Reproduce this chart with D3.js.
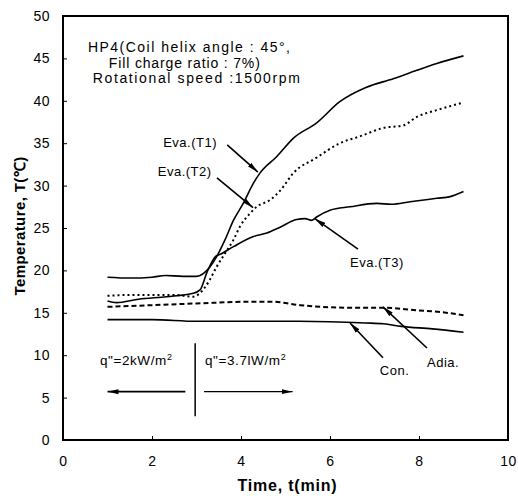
<!DOCTYPE html>
<html>
<head>
<meta charset="utf-8">
<script src="https://cdn.jsdelivr.net/npm/d3@7"></script>
<style>
  body { margin: 0; background: #fff; }
  text { font-family: "Liberation Sans", Arial, sans-serif; fill: #000; }
</style>
</head>
<body>
<div id="chart"></div>
<script>
// data: [time (min), temperature (C)]
var evaT1 = [[1,19.2],[1.5,19.1],[2,19.2],[2.3,19.4],[2.7,19.3],[3.0,19.3],[3.3,20.4],[3.45,21.6],[3.64,23.6],[3.83,25.9],[4.05,27.9],[4.28,30.3],[4.43,31.5],[4.8,33.4],[5.18,35.6],[5.7,37.4],[6.22,39.9],[6.82,41.6],[7.42,42.6],[7.95,43.6],[8.4,44.4],[9,45.3]];
var evaT2 = [[1,17.0],[1.5,17.1],[2,17.1],[2.5,17.1],[2.93,16.9],[3.05,17.2],[3.3,18.9],[3.45,20.4],[3.64,22.0],[3.83,23.6],[3.98,25.2],[4.2,26.7],[4.35,27.5],[4.65,28.3],[4.88,29.4],[5.18,31.5],[5.7,33.3],[6.22,35.0],[6.67,35.8],[7.2,36.8],[7.65,37.1],[7.95,38.1],[8.4,38.9],[9,39.8]];
var evaT3 = [[1,16.4],[1.2,16.2],[1.7,16.6],[2.33,16.9],[2.93,17.3],[3.08,17.7],[3.23,19.7],[3.42,21.6],[3.57,22.0],[3.83,22.8],[4.28,24.0],[4.58,24.4],[4.88,25.1],[5.25,26.0],[5.44,26.1],[5.59,25.9],[5.7,26.3],[6.0,27.1],[6.45,27.5],[7.05,27.9],[7.38,27.8],[7.8,28.1],[8.4,28.5],[8.7,28.7],[9,29.3]];
var adia = [[1,15.7],[2,15.9],[3,16.1],[4.2,16.3],[4.7,16.3],[5.33,15.9],[6.45,15.6],[7.2,15.6],[7.95,15.3],[8.47,15.1],[9,14.7]];
var con = [[1,14.2],[2,14.2],[3,14.0],[5.3,14.0],[6.8,13.8],[7.2,13.7],[7.6,13.4],[8.3,13.1],[9,12.7]];

var xTicks = [0, 2, 4, 6, 8, 10];
var yTicks = [0, 5, 10, 15, 20, 25, 30, 35, 40, 45, 50];
var infoLines = ["HP4(Coil helix angle : 45\u00b0,", "Fill charge ratio : 7%)", "Rotational speed :1500rpm"];

var margin = {top: 16, right: 10, bottom: 56, left: 63},
    width = 518 - margin.left - margin.right,
    height = 496 - margin.top - margin.bottom;

var svg = d3.select("#chart")
  .append("svg")
    .attr("width", 518)
    .attr("height", 496)
  .append("g")
    .attr("transform", "translate(" + margin.left + "," + margin.top + ")");

var x = d3.scaleLinear().domain([0, 10]).range([0, width]);
var y = d3.scaleLinear().domain([0, 50]).range([height, 0]);

// arrowhead
svg.append("defs").append("marker")
    .attr("id", "head")
    .attr("viewBox", "0 0 11 6")
    .attr("refX", 11).attr("refY", 3)
    .attr("markerWidth", 11).attr("markerHeight", 6)
    .attr("markerUnits", "userSpaceOnUse")
    .attr("orient", "auto")
  .append("path")
    .attr("d", "M0,0.5 L11,3 L0,5.5 Z")
    .attr("fill", "#000");

// axes with inward ticks
svg.append("g")
    .attr("transform", "translate(0," + height + ")")
    .call(d3.axisBottom(x).tickValues(xTicks).tickSize(-4).tickPadding(16))
    .call(g => g.select(".domain").remove())
    .call(g => g.selectAll("text").attr("font-size", "14px").attr("letter-spacing", "0.5px"));

svg.append("g")
    .call(d3.axisLeft(y).tickValues(yTicks).tickSize(-4).tickPadding(13))
    .call(g => g.select(".domain").remove())
    .call(g => g.selectAll("text").attr("font-size", "14px").attr("letter-spacing", "0.5px"));

svg.append("rect")
    .attr("width", width).attr("height", height)
    .attr("fill", "none").attr("stroke", "#000").attr("stroke-width", 2);

// axis titles
svg.append("text")
    .attr("x", width / 2 + 2).attr("y", height + 51)
    .attr("text-anchor", "middle")
    .attr("font-size", "16px").attr("font-weight", "bold")
    .attr("letter-spacing", "0.8px")
    .text("Time, t(min)");

svg.append("text")
    .attr("transform", "translate(-38," + (height / 2 - 2) + ") rotate(-90)")
    .attr("text-anchor", "middle")
    .attr("font-size", "15px").attr("font-weight", "bold")
    .attr("letter-spacing", "0.4px")
    .text("Temperature, T(\u2103)");

// curves
var line = d3.line()
    .x(d => x(d[0]))
    .y(d => y(d[1]))
    .curve(d3.curveMonotoneX);

var series = [
  {data: evaT1, dash: null},
  {data: evaT2, dash: "2,3"},
  {data: evaT3, dash: null},
  {data: adia, dash: "5,3"},
  {data: con, dash: null}
];

svg.selectAll(".curve")
  .data(series)
  .enter()
  .append("path")
    .attr("class", "curve")
    .attr("d", d => line(d.data))
    .attr("fill", "none")
    .attr("stroke", "#000")
    .attr("stroke-width", d => d.dash ? 2 : 1.6)
    .attr("stroke-dasharray", d => d.dash);

// info text
var infoX = [0.56, 1.03, 0.67];
var infoW = [202, 151, 207];
svg.append("g").selectAll("text")
  .data(infoLines)
  .enter()
  .append("text")
    .attr("x", (d, i) => x(infoX[i]))
    .attr("y", (d, i) => y(45.7 - i * 1.78))
    .attr("font-size", "14px")
    .attr("textLength", (d, i) => infoW[i])
    .attr("lengthAdjust", "spacing")
    .text(d => d);

// labels with arrows (positions in data units)
var notes = [
  {label: "Eva.(T1)", tx: 2.25, ty: 34.5, from: [3.69, 34.8], to: [4.38, 31.6]},
  {label: "Eva.(T2)", tx: 2.13, ty: 31.1, from: [3.46, 30.9], to: [4.27, 27.4]},
  {label: "Eva.(T3)", tx: 6.45, ty: 20.4, from: [6.63, 22.5], to: [5.66, 26.1]},
  {label: "Adia.", tx: 8.18, ty: 8.6, from: [8.18, 10.85], to: [7.19, 15.7]},
  {label: "Con.", tx: 7.12, ty: 7.7, from: [7.19, 9.7], to: [6.45, 13.8]}
];

svg.append("g").selectAll("text")
  .data(notes)
  .enter()
  .append("text")
    .attr("x", d => x(d.tx))
    .attr("y", d => y(d.ty))
    .attr("font-size", "13px")
    .attr("letter-spacing", "0.5px")
    .text(d => d.label);

svg.append("g").selectAll("line")
  .data(notes)
  .enter()
  .append("line")
    .attr("x1", d => x(d.from[0])).attr("y1", d => y(d.from[1]))
    .attr("x2", d => x(d.to[0])).attr("y2", d => y(d.to[1]))
    .attr("stroke", "#000").attr("stroke-width", 1.6)
    .attr("marker-end", "url(#head)");

// heat flux region markers
svg.append("line")
    .attr("x1", x(2.97)).attr("x2", x(2.97))
    .attr("y1", y(11.4)).attr("y2", y(2.8))
    .attr("stroke", "#000").attr("stroke-width", 1.5);

svg.append("line")
    .attr("x1", x(2.75)).attr("x2", x(1.0))
    .attr("y1", y(5.7)).attr("y2", y(5.7))
    .attr("stroke", "#000").attr("stroke-width", 1.6)
    .attr("marker-end", "url(#head)");

svg.append("line")
    .attr("x1", x(3.17)).attr("x2", x(5.16))
    .attr("y1", y(5.7)).attr("y2", y(5.7))
    .attr("stroke", "#000").attr("stroke-width", 1.3)
    .attr("marker-end", "url(#head)");

var q1 = svg.append("text")
    .attr("x", x(0.83)).attr("y", y(8.85))
    .attr("font-size", "13.5px")
    .attr("letter-spacing", "0.6px");
q1.append("tspan").text("q\"=2kW/m");
q1.append("tspan").attr("dy", -5).attr("font-size", "9px").text("2");

var q2 = svg.append("text")
    .attr("x", x(3.19)).attr("y", y(8.85))
    .attr("font-size", "13.5px")
    .attr("letter-spacing", "0.6px");
q2.append("tspan").text("q\"=3.7lW/m");
q2.append("tspan").attr("dy", -5).attr("font-size", "9px").text("2");
</script>
</body>
</html>
